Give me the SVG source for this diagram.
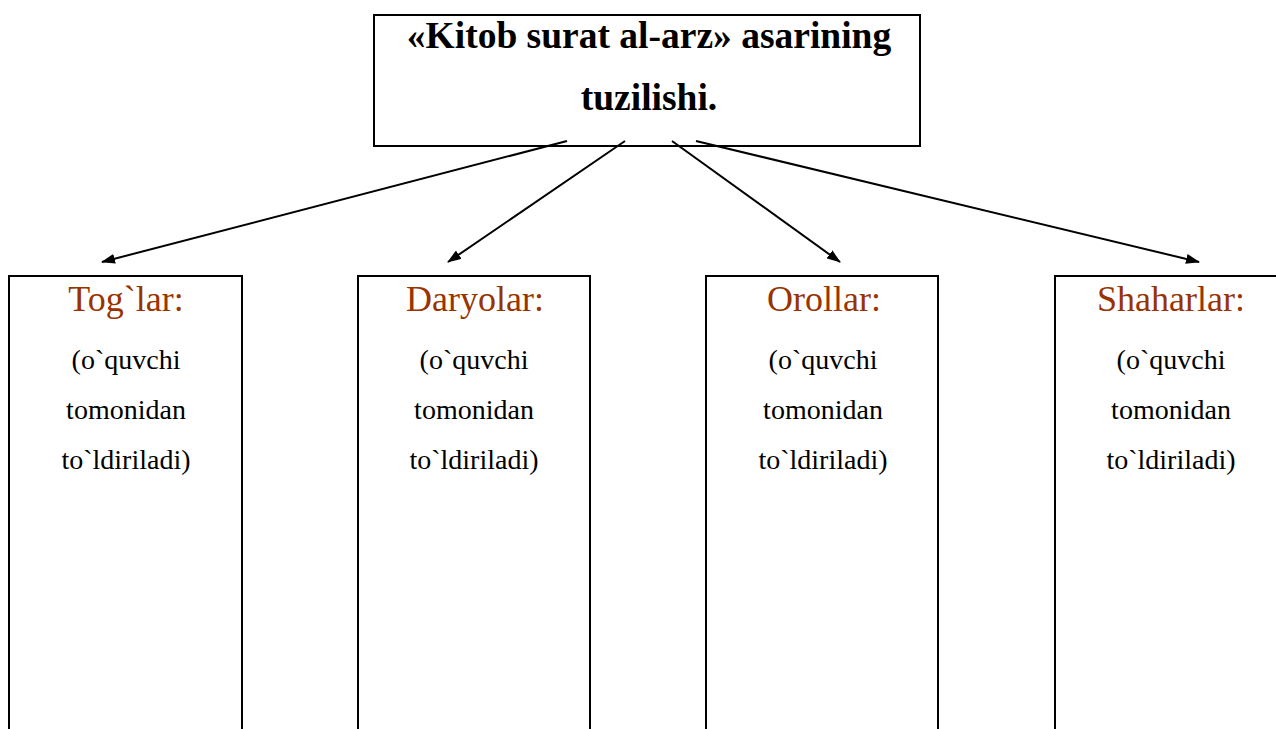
<svg xmlns="http://www.w3.org/2000/svg" width="1276" height="729" viewBox="0 0 1276 729">
<style>
.box{fill:#fff;stroke:#000;stroke-width:2}
.title{font-family:"Liberation Serif",serif;font-weight:bold;font-size:37.5px;fill:#000;text-anchor:middle}
.head{font-family:"Liberation Serif",serif;font-size:36px;fill:#993300;text-anchor:middle}
.body{font-family:"Liberation Serif",serif;font-size:28px;fill:#000;text-anchor:middle}
.conn{stroke:#000;stroke-width:2;fill:none;marker-end:url(#ah)}
</style>
<defs>
<marker id="ah" viewBox="0 0 14 10" refX="13" refY="5" markerWidth="14" markerHeight="10" markerUnits="userSpaceOnUse" orient="auto"><path d="M0,0 L14,5 L0,10 z" fill="#000"/></marker>
</defs>
<rect width="1276" height="729" fill="#fff"/>
<g id="root">
<rect class="box" x="374" y="15" width="546" height="131"/>
<text class="title" x="649" y="48">«Kitob surat al-arz» asarining</text>
<text class="title" x="649" y="110">tuzilishi.</text>
</g>
<g id="node-toglar">
<rect class="box" x="9" y="276" width="233" height="470"/>
<text class="head" x="126" y="311">Tog`lar:</text>
<text class="body" x="126" y="369">(o`quvchi</text>
<text class="body" x="126" y="419">tomonidan</text>
<text class="body" x="126" y="469">to`ldiriladi)</text>
</g>
<g id="node-daryolar">
<rect class="box" x="358" y="276" width="232" height="470"/>
<text class="head" x="475" y="311">Daryolar:</text>
<text class="body" x="474" y="369">(o`quvchi</text>
<text class="body" x="474" y="419">tomonidan</text>
<text class="body" x="474" y="469">to`ldiriladi)</text>
</g>
<g id="node-orollar">
<rect class="box" x="706" y="276" width="232" height="470"/>
<text class="head" x="824" y="311">Orollar:</text>
<text class="body" x="823" y="369">(o`quvchi</text>
<text class="body" x="823" y="419">tomonidan</text>
<text class="body" x="823" y="469">to`ldiriladi)</text>
</g>
<g id="node-shaharlar">
<rect class="box" x="1055" y="276" width="240" height="470"/>
<text class="head" x="1171" y="311">Shaharlar:</text>
<text class="body" x="1171" y="369">(o`quvchi</text>
<text class="body" x="1171" y="419">tomonidan</text>
<text class="body" x="1171" y="469">to`ldiriladi)</text>
</g>
<g id="connectors">
<line class="conn" x1="567" y1="141" x2="102" y2="262"/>
<line class="conn" x1="625" y1="141" x2="448" y2="262"/>
<line class="conn" x1="672" y1="141" x2="840" y2="262"/>
<line class="conn" x1="696" y1="141" x2="1199" y2="262"/>
</g>
</svg>
